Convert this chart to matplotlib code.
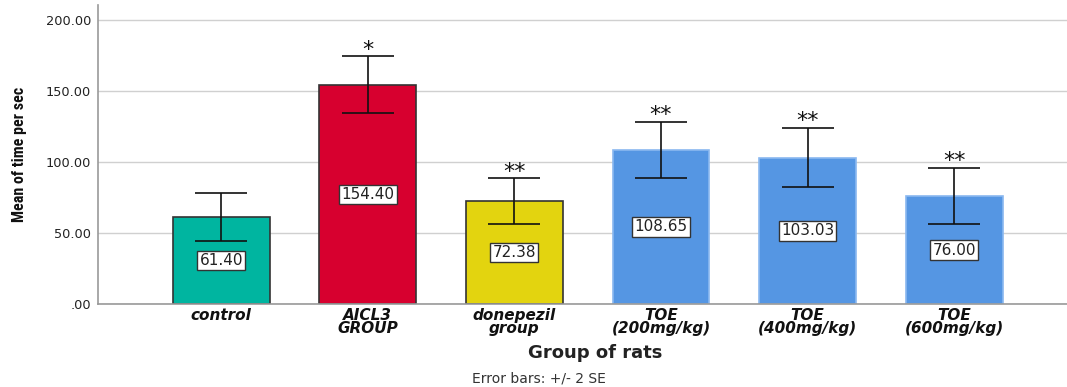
import numpy as np
import matplotlib.pyplot as plt

groups = ['control', 'AICL3\nGROUP', 'donepezil\ngroup',
          'TOE\n(200mg/kg)', 'TOE\n(400mg/kg)', 'TOE\n(600mg/kg)']
means = [61.40, 154.40, 72.38, 108.65, 103.03, 76.00]
two_se = [17.0, 20.0, 16.2, 19.7, 21.0, 20.0]
stars = ['', '*', '**', '**', '**', '**']
colors = ['#00b5a0', '#d7002f', '#e3d40f', '#5596e3', '#5596e3', '#5596e3']
edges = ['#333333', '#333333', '#333333', '#8ab8f0', '#8ab8f0', '#8ab8f0']

plt.rcParams['font.family'] = ['DejaVu Sans']

fig = plt.figure(figsize=(10.67, 3.87), dpi=100)
ax = fig.add_axes([0.092, 0.2145, 0.908, 0.7725])

x = np.arange(len(groups))
ax.bar(x, means, width=0.66, color=colors, edgecolor=edges, linewidth=1.2, zorder=2)
ax.errorbar(x, means, yerr=two_se, fmt='none', ecolor='#111111',
            elinewidth=1.2, capsize=19, capthick=1.2, zorder=3)

for xi, m, e, s in zip(x, means, two_se, stars):
    ax.text(xi, m / 2, f'{m:.2f}', ha='center', va='center', fontsize=11,
            color='#222222', zorder=4,
            bbox=dict(boxstyle='square,pad=0.15', fc='white', ec='#333333', lw=1))
    if s:
        ax.text(xi, m + e - 2.5, s, ha='center', va='bottom', fontsize=16,
                color='#111111', zorder=4)

ax.set_xlim(-0.84, 5.77)
ax.set_ylim(0, 210.5)
ax.set_yticks([0, 50, 100, 150, 200])
ax.set_yticklabels(['.00', '50.00', '100.00', '150.00', '200.00'], fontsize=9.3, color='#222222')
ax.set_xticks(x)
ax.set_xticklabels(groups, fontsize=11, fontweight='bold', fontstyle='italic',
                   linespacing=0.85, color='#111111')
ax.tick_params(axis='y', length=0, pad=5)
ax.tick_params(axis='x', length=0, pad=3)

ax.grid(axis='y', color='#d0d0d0', linewidth=1, zorder=0)
ax.set_axisbelow(True)
for side in ['top', 'right']:
    ax.spines[side].set_visible(False)
ax.spines['left'].set_color('#999999')
ax.spines['bottom'].set_color('#999999')
ax.spines['left'].set_linewidth(1.2)
ax.spines['bottom'].set_linewidth(1.2)

fig.text(0.018, 0.6, 'Mean of time per sec', rotation=90, ha='center', va='center',
         fontsize=11.5, fontweight='bold', family=['Roboto Condensed', 'DejaVu Sans'],
         color='#111111')
fig.text(0.558, 0.088, 'Group of rats', ha='center', va='center', fontsize=13,
         fontweight='bold', color='#222222')
fig.text(0.505, 0.022, 'Error bars: +/- 2 SE', ha='center', va='center', fontsize=10,
         color='#333333')

fig.savefig('out.png', dpi=100)
